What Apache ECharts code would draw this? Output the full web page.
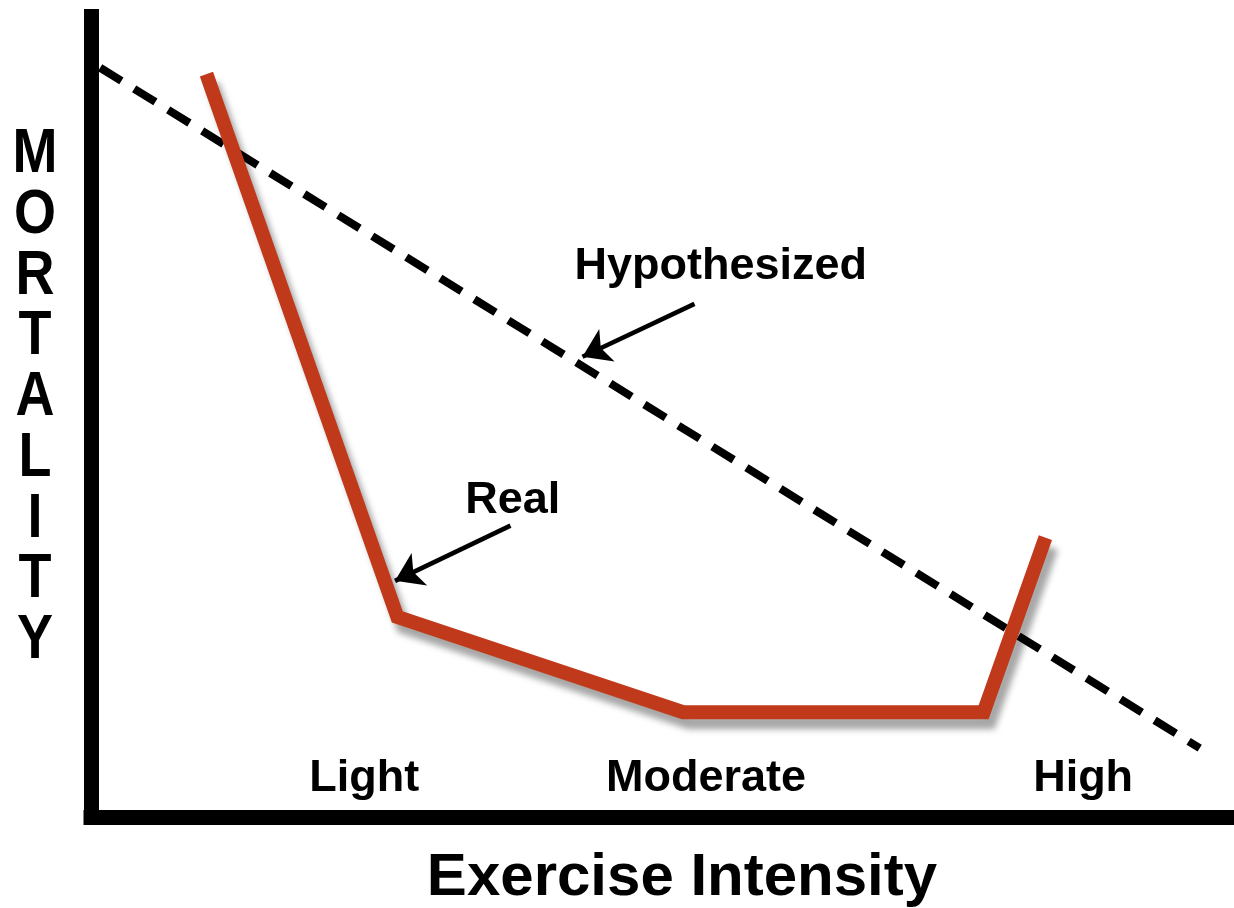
<!DOCTYPE html>
<html>
<head>
    <meta charset="UTF-8">
    <title>Exercise Intensity vs Mortality</title>
    <script src="https://cdn.jsdelivr.net/npm/echarts@6/dist/echarts.min.js"></script>
    <style>
        html, body { margin: 0; padding: 0; background: #fff; }
    </style>
</head>
<body>
<div id="chart" style="width: 1234px;height:908px;"></div>
<script>
    // values on a 0-100 scale for both axes
    var realLine = [[10.1, 92.8], [26.8, 25.0], [51.8, 13.1], [78.1, 13.1], [83.5, 34.9]];
    var hypothesizedLine = [[0.8, 93.6], [97.0, 8.6]];
    var intensityLabels = ['Light', 'Moderate', 'High'];
    var intensityPos = [[23.9, 4.8], [53.8, 4.8], [86.8, 4.8]];
    var noteLabels = ['Hypothesized', 'Real'];
    var notePos = [[55.1, 68.8], [36.9, 39.5]];
    var arrows = [
        [[52.8, 64.1], [43.0, 57.5]],
        [[36.7, 36.4], [26.6, 29.5]]
    ];
    var yLetters = 'MORTALITY'.split('');

    var font = 'Liberation Sans, Arial, Helvetica, sans-serif';
    var chart = echarts.init(document.getElementById('chart'));

    function labelSeries(names, pos) {
        return {
            type: 'scatter',
            symbolSize: 1,
            itemStyle: { color: 'rgba(0,0,0,0)', opacity: 1 },
            silent: true,
            z: 5,
            data: pos.map(function (p, i) { return { value: p, name: names[i] }; }),
            label: {
                show: true,
                position: 'inside',
                formatter: '{b}',
                color: '#000',
                opacity: 1,
                fontFamily: font,
                fontWeight: 'bold',
                fontSize: 45
            }
        };
    }

    // vertical MORTALITY letters
    var letterEls = yLetters.map(function (ch, i) {
        return {
            type: 'text',
            x: 35,
            y: 155 + i * 60.75,
            scaleY: 1.15,
            style: {
                text: ch,
                x: 0, y: 0,
                textAlign: 'center',
                textVerticalAlign: 'middle',
                fill: '#000',
                font: 'bold 54px ' + font
            }
        };
    });

    chart.setOption({
        animation: false,
        backgroundColor: '#fff',
        grid: { left: 91, right: 0, top: 16.5, bottom: 91 },
        xAxis: {
            type: 'value', min: 0, max: 100,
            axisLine: { lineStyle: { color: '#000', width: 15, cap: 'square' } },
            axisTick: { show: false },
            axisLabel: { show: false },
            splitLine: { show: false }
        },
        yAxis: {
            type: 'value', min: 0, max: 100,
            axisLine: { show: true, lineStyle: { color: '#000', width: 15, cap: 'square' } },
            axisTick: { show: false },
            axisLabel: { show: false },
            splitLine: { show: false }
        },
        graphic: letterEls.concat([{
            type: 'text',
            x: 682,
            y: 878,
            style: {
                text: 'Exercise Intensity',
                textAlign: 'center',
                textVerticalAlign: 'middle',
                fill: '#000',
                font: 'bold 60px ' + font
            }
        }]),
        series: [
            {
                name: 'Hypothesized',
                type: 'line',
                data: hypothesizedLine,
                symbol: 'none',
                z: 2,
                lineStyle: { color: '#000', width: 8, type: [25, 15], cap: 'butt' }
            },
            {
                name: 'Real',
                type: 'line',
                data: realLine,
                symbol: 'none',
                z: 3,
                lineStyle: {
                    color: '#c0391b', width: 14, join: 'miter', cap: 'butt',
                    shadowColor: 'rgba(0,0,0,0.35)', shadowBlur: 6,
                    shadowOffsetX: 6, shadowOffsetY: 10
                }
            },
            {
                type: 'lines',
                coordinateSystem: 'cartesian2d',
                symbol: ['none', 'arrow'],
                symbolSize: 27,
                z: 4,
                lineStyle: { color: '#000', width: 4.5, opacity: 1, curveness: 0 },
                data: arrows.map(function (a) { return { coords: a }; })
            },
            labelSeries(intensityLabels, intensityPos),
            labelSeries(noteLabels, notePos)
        ]
    });
</script>
</body>
</html>
